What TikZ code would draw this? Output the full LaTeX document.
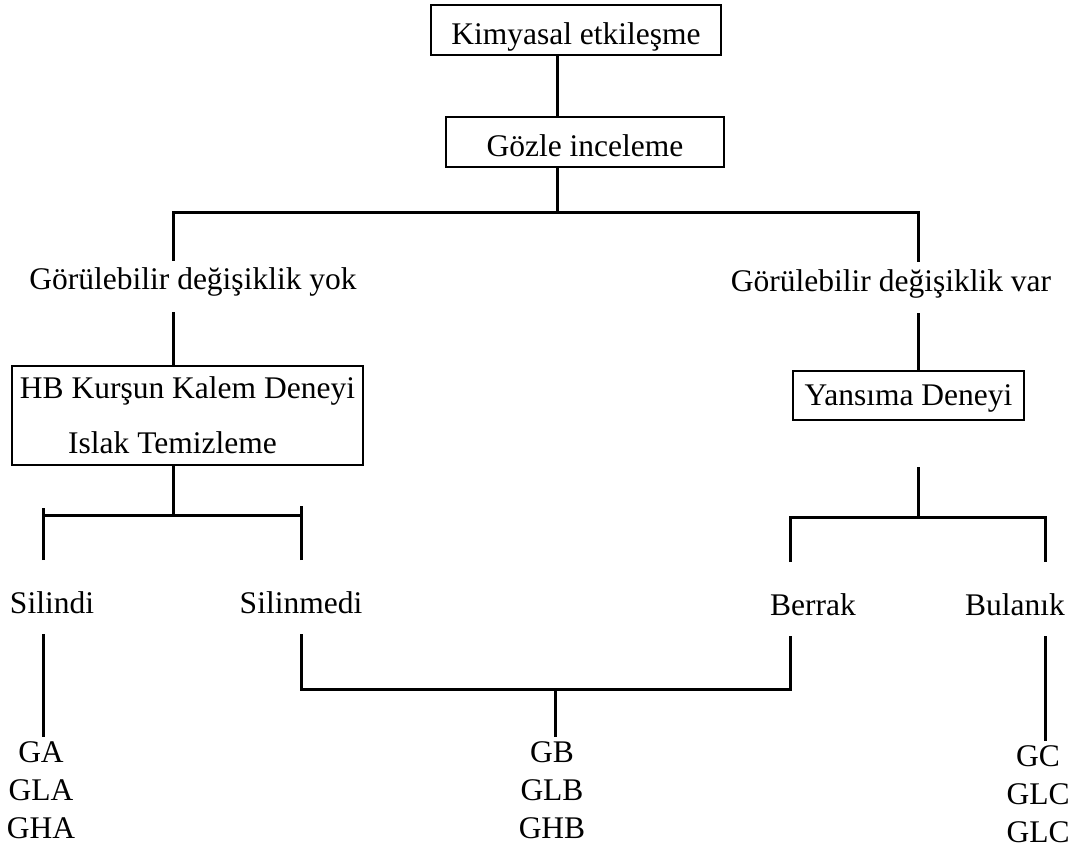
\documentclass[tikz,border=0pt]{standalone}
\usepackage{fontspec}
\setmainfont{Liberation Serif}
\begin{document}
\begin{tikzpicture}[x=1pt,y=-1pt,inner sep=0pt,outer sep=0pt,line width=3pt,
font=\fontsize{31.5}{38}\selectfont,
testbox/.style={draw,rectangle,line width=2.8pt,text height=32pt,text depth=2pt},
result/.style={anchor=base,text height=16pt,text depth=9pt,inner ysep=13pt},
branch/.style={anchor=base,text height=41pt,text depth=9pt,inner ysep=12pt},
sample/.style={anchor=base,align=center,inner ysep=4pt}]
\useasboundingbox (0,0) rectangle (1076,850);
\draw (576,30) node[testbox,minimum width=290pt,minimum height=50pt] (kim) {Kimyasal etkileşme};
\draw (585,142) node[testbox,minimum width=278pt,minimum height=50pt] (goz) {Gözle inceleme};
\draw (187.5,415.5) node[testbox,align=center,text height=,text depth=,minimum width=351pt,minimum height=99pt] (hb) {HB Kurşun Kalem Deneyi\\[17pt]\hspace*{-30pt}Islak Temizleme};
\draw (908.5,395.5) node[testbox,text height=26pt,text depth=7pt,minimum width=231pt,minimum height=49pt] (yan) {Yansıma Deneyi};

\draw (193,290) node[result] (yok) {Görülebilir değişiklik yok};
\draw (891,291) node[result] (var) {Görülebilir değişiklik var};
\draw (52,613) node[branch] (sil) {Silindi};
\draw (301,613) node[branch] (silm) {Silinmedi};
\draw (813,615) node[branch] (ber) {Berrak};
\draw (1015,615) node[branch] (bul) {Bulanık};
\draw (41,838) node[sample] (ga) {GA\\GLA\\GHA};
\draw (552,838) node[sample] (gb) {GB\\GLB\\GHB};
\draw (1038,842) node[sample] (gc) {GC\\GLC\\GLC};

\coordinate (trunk) at (557,0);
\coordinate (colA) at (173,0);
\coordinate (colB) at (918,0);
\coordinate (colS) at (43,0);
\coordinate (colM) at (301,0);
\coordinate (colR) at (790,0);
\coordinate (colU) at (1045,0);
\coordinate (fork1) at (557,213);
\coordinate (fork2) at (173,515);
\coordinate (fork3) at (918,517);
\coordinate (fork4) at (555,689);

\draw (kim.south -| trunk) -- (goz.north -| trunk);
\draw (goz.south -| fork1) -- (fork1);
\draw (yok.north -| colA) |- (fork1) -| (var.north -| colB);
\draw (yok.south -| colA) -- (hb.north -| colA);
\draw (var.south -| colB) -- (yan.north -| colB);
\draw (hb.south -| colA) -- (fork2);
\draw (colS |- fork2) -- (colM |- fork2);
\draw (sil.north -| colS) -- ++(0,-52);
\draw (silm.north -| colM) -- ++(0,-54);
\draw (yan.south -| colB) ++(0,47) -- (fork3);
\draw (ber.north -| colR) |- (fork3) -| (bul.north -| colU);
\draw (silm.south -| colM) |- (fork4) -| (ber.south -| colR);
\draw (fork4) -- (gb.north -| fork4);
\draw (sil.south -| colS) -- (ga.north -| colS);
\draw (bul.south -| colU) -- (gc.north -| colU);
\end{tikzpicture}
\end{document}
